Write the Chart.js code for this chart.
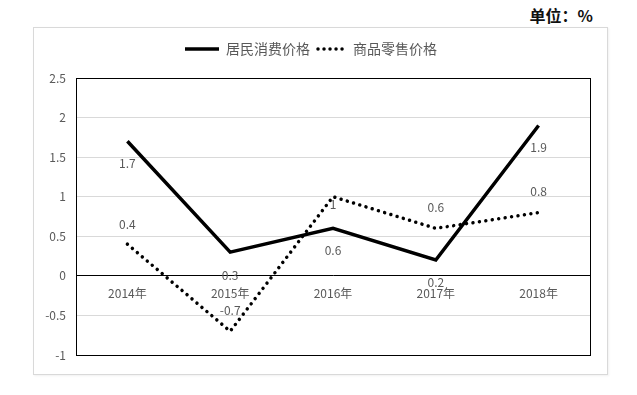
<!DOCTYPE html>
<html>
<head>
<meta charset="utf-8">
<script src="https://cdn.jsdelivr.net/npm/chart.js@4/dist/chart.umd.min.js"></script>
<style>
  html, body { margin: 0; padding: 0; background: #fff; }
  body { width: 637px; height: 395px; position: relative; overflow: hidden; font-family: "Noto Sans CJK SC", sans-serif; }
  #unit { position: absolute; right: 44px; top: 3px; font-size: 16px; font-weight: bold; color: #111; }
  #card { position: absolute; left: 33px; top: 27px; width: 573px; height: 346px; border: 1px solid #d9d9d9; box-shadow: 1px 1px 2px rgba(0,0,0,0.06); }
  canvas { display: block; }
</style>
</head>
<body>
<div id="unit">单位：%</div>
<div id="card"><canvas id="chart" width="573" height="346"></canvas></div>
<script>
const categories = ["2014年", "2015年", "2016年", "2017年", "2018年"];
const consumerPrice = [1.7, 0.3, 0.6, 0.2, 1.9];
const retailPrice = [0.4, -0.7, 1, 0.6, 0.8];
const seriesNames = ["居民消费价格", "商品零售价格"];

const TEXT = "#595959";
const FONT = "'Noto Sans CJK SC', sans-serif";

// little line samples for the legend
function sample(dashed) {
  const c = document.createElement("canvas");
  c.width = 36; c.height = 8;
  const g = c.getContext("2d");
  g.strokeStyle = "#000";
  g.lineWidth = 3.5;
  if (dashed) {
    g.lineCap = "round";
    g.setLineDash([0.01, 6]);
    g.beginPath(); g.moveTo(6, 4); g.lineTo(34, 4); g.stroke();
  } else {
    g.beginPath(); g.moveTo(0, 4); g.lineTo(34, 4); g.stroke();
  }
  return c;
}

// plot frame + value labels
const extras = {
  id: "extras",
  beforeInit(chart) {
    const fit = chart.legend.fit;
    chart.legend.fit = function () { fit.call(this); this.height += 12; };
  },
  beforeDatasetsDraw(chart) {
    const { ctx, chartArea: a } = chart;
    ctx.save();
    ctx.strokeStyle = "#000";
    ctx.lineWidth = 1;
    ctx.strokeRect(Math.round(a.left) + 0.5, Math.round(a.top) + 0.5, Math.round(a.right - a.left), Math.round(a.bottom - a.top));
    ctx.restore();
  },
  afterDatasetsDraw(chart, args, opts) {
    const { ctx } = chart;
    ctx.save();
    ctx.font = "12px " + FONT;
    ctx.fillStyle = TEXT;
    ctx.textAlign = "center";
    ctx.textBaseline = "middle";
    chart.data.datasets.forEach((ds, i) => {
      const meta = chart.getDatasetMeta(i);
      meta.data.forEach((pt, j) => {
        ctx.fillText(String(ds.data[j]), pt.x, pt.y + opts.shifts[i][j]);
      });
    });
    ctx.restore();
  },
};

new Chart(document.getElementById("chart"), {
  type: "line",
  data: {
    labels: categories,
    datasets: [
      { label: seriesNames[0], data: consumerPrice, borderColor: "#000", backgroundColor: "#000", borderWidth: 3.5,
        pointRadius: 0, pointStyle: sample(false), tension: 0, borderCapStyle: "butt", borderJoinStyle: "miter" },
      { label: seriesNames[1], data: retailPrice, borderColor: "#000", backgroundColor: "#000", borderWidth: 3.5,
        borderDash: [0.01, 6.5], borderCapStyle: "round", pointRadius: 0, pointStyle: sample(true), tension: 0 },
    ],
  },
  options: {
    responsive: false,
    animation: false,
    layout: { padding: { top: 10, right: 17, bottom: 19, left: 0 } },
    scales: {
      x: {
        position: { y: 0 },
        offset: true,
        grid: { display: false, drawTicks: false },
        border: { color: "#000", width: 1 },
        ticks: { color: TEXT, font: { size: 12, family: FONT }, padding: 10, maxRotation: 0 },
      },
      y: {
        min: -1, max: 2.5,
        afterFit: (s) => { s.width = 42; },
        grid: { color: "#d9d9d9", drawTicks: false },
        border: { display: false },
        ticks: { stepSize: 0.5, color: TEXT, font: { size: 12, family: FONT }, padding: 10,
          callback: (v) => String(Math.round(v * 10) / 10) },
      },
    },
    plugins: {
      legend: {
        position: "top",
        labels: { usePointStyle: true, pointStyleWidth: 32, color: TEXT, font: { size: 14, family: FONT }, padding: 4 },
      },
      tooltip: { enabled: false },
      extras: { shifts: [[22, 23, 22, 22, 22], [-20, -21, 8, -21, -21]] },
    },
  },
  plugins: [extras],
});
</script>
</body>
</html>
